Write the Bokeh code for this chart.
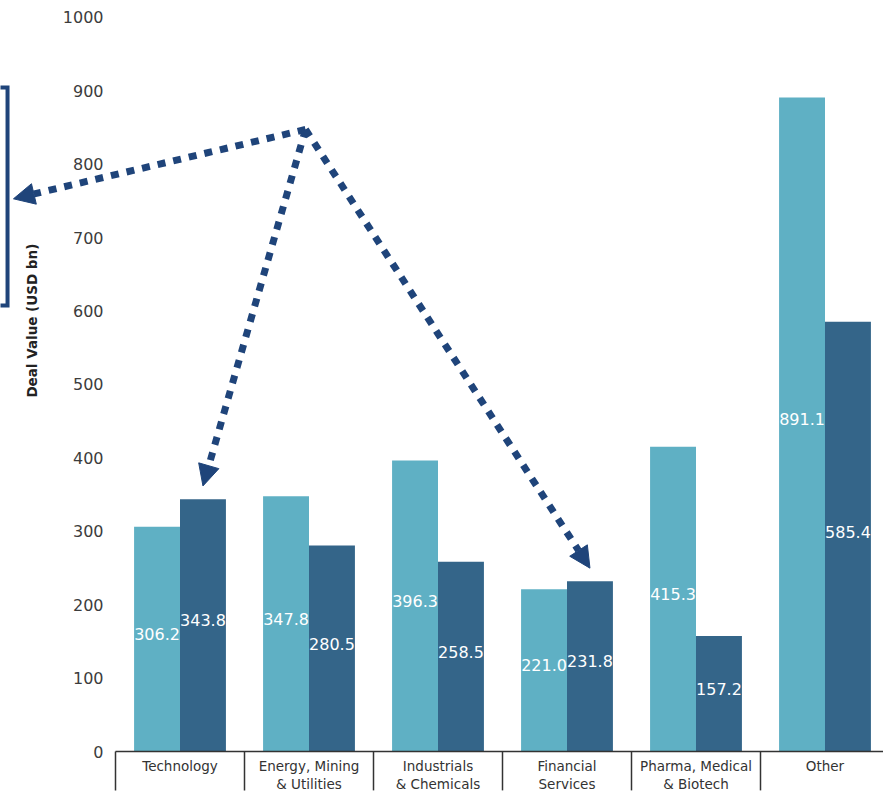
import math
from bokeh.plotting import figure
from bokeh.models import ColumnDataSource, Range1d, Arrow, NormalHead
from bokeh.core.properties import value
from bokeh.embed import file_html
from bokeh.resources import INLINE

# ---- data ----
categories = ["Technology", "Energy, Mining\n& Utilities", "Industrials\n& Chemicals",
              "Financial\nServices", "Pharma, Medical\n& Biotech", "Other"]
series_a = [306.2, 347.8, 396.3, 221.0, 415.3, 891.1]   # light bars
series_b = [343.8, 280.5, 258.5, 231.8, 157.2, 585.4]   # dark bars
y_ticks = [0, 100, 200, 300, 400, 500, 600, 700, 800, 900, 1000]
y_title = "Deal Value (USD bn)"
highlight = [0, 3]   # categories whose dark bar the arrows point to

LIGHT = "#5fb0c4"
DARK = "#346589"
NAVY = "#1f447a"
AXIS = "#333333"
FONT = "DejaVu Sans"

n = len(categories)
off = 0.178
bw = 0.356
xa = [i + 0.5 - off for i in range(n)]
xb = [i + 0.5 + off for i in range(n)]

src_a = ColumnDataSource(dict(x=xa, top=series_a, ly=[v / 2 for v in series_a],
                              txt=["%.1f" % v for v in series_a]))
src_b = ColumnDataSource(dict(x=xb, top=series_b, ly=[v / 2 for v in series_b],
                              txt=["%.1f" % v for v in series_b]))

# frame covers the whole canvas; axes are drawn in data space
p = figure(width=883, height=793, output_backend="svg", toolbar_location=None,
           x_range=Range1d(-0.8915, 5.9535), y_range=Range1d(-57.22, 1023.16),
           min_border=0, x_axis_location=None, y_axis_location=None)
p.outline_line_color = None
p.xgrid.visible = False
p.ygrid.visible = False
p.background_fill_color = "white"
p.border_fill_color = "white"

# bars
p.vbar(x="x", top="top", width=bw, source=src_a, fill_color=LIGHT, line_color=None)
p.vbar(x="x", top="top", width=bw, source=src_b, fill_color=DARK, line_color=None)

# value labels inside the bars
for s in (src_a, src_b):
    p.text(x="x", y="ly", text="txt", source=s, text_color="white",
           text_align="center", text_baseline="middle", y_offset=-5,
           text_font=value(FONT), text_font_size="16px")

# y tick labels
p.text(x=[-0.093] * len(y_ticks), y=y_ticks, text=[str(t) for t in y_ticks],
       text_align="right", text_baseline="middle", text_color="#3c3c3c",
       text_font=value(FONT), text_font_size="16px")

# y title
p.text(x=[-0.651], y=[587], text=[y_title], angle=math.pi / 2,
       text_align="center", text_baseline="middle", text_color="#222222",
       text_font=value(FONT), text_font_size="13.5px", text_font_style="bold")

# x axis line and category separators
p.segment(x0=[0], y0=[0], x1=[n], y1=[0], line_color=AXIS, line_width=1.5)
p.segment(x0=list(range(n + 1)), y0=[0] * (n + 1), x1=list(range(n + 1)),
          y1=[-53] * (n + 1), line_color=AXIS, line_width=1.5)

# category labels
p.text(x=[i + 0.5 for i in range(n)], y=[-9] * n, text=categories,
       text_align="center", text_baseline="top", text_color=AXIS,
       text_font=value(FONT), text_font_size="13.5px", text_line_height=1.15)

# bracket on the left
bx, bx0 = -0.837, -0.95
btop, bbot = 904.6, 607.6
p.multi_line(xs=[[bx0, bx, bx, bx0]], ys=[[btop, btop, bbot, bbot]],
             line_color=NAVY, line_width=4, line_join="miter")

# dotted arrows from a common apex
apex_x, apex_y = 1.473, 847.4
targets = [(-0.791, 753)] + [(i + 0.5 + off, series_b[i] + 18) for i in highlight]
for (tx, ty) in targets:
    p.add_layout(Arrow(end=NormalHead(size=21, fill_color=NAVY, line_color=NAVY, line_width=1),
                       x_start=apex_x, y_start=apex_y, x_end=tx, y_end=ty,
                       line_color=NAVY, line_width=7, line_dash="8 8"))

open("out.html", "w").write(file_html(p, INLINE))
